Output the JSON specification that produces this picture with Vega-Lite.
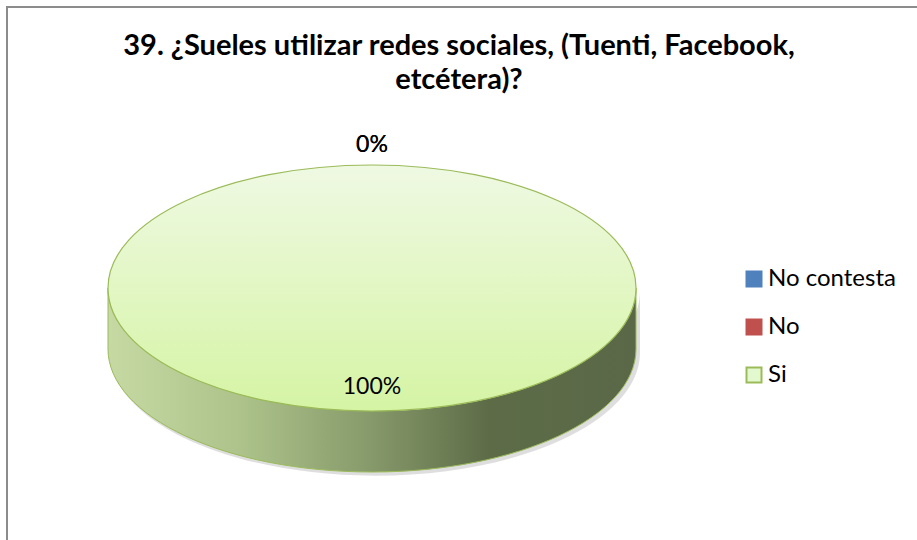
{
  "$schema": "https://vega.github.io/schema/vega-lite/v6.json",
  "autosize": "none",
  "width": 920,
  "height": 540,
  "padding": {"left": 7, "top": 7, "right": 0, "bottom": 0},
  "background": "white",
  "config": {
    "view": {"stroke": null},
    "font": "Lato"
  },
  "title": {
    "text": ["39. ¿Sueles utilizar redes sociales, (Tuenti, Facebook,", "etcétera)?"],
    "font": "Lato",
    "fontSize": 29,
    "fontWeight": "bold",
    "color": "#000000",
    "lineHeight": 34,
    "anchor": "middle",
    "frame": "group",
    "orient": "top",
    "baseline": "top",
    "offset": -89,
    "dx": -8
  },
  "data": {
    "values": [
      {"respuesta": "No contesta", "pct": 0},
      {"respuesta": "No", "pct": 0},
      {"respuesta": "Si", "pct": 1}
    ]
  },
  "layer": [
    {
      "transform": [{"filter": "datum.respuesta == 'Si'"}],
      "mark": {"type": "rect", "fill": null, "fillOpacity": 0, "stroke": "#8c8c8c", "strokeWidth": 2},
      "encoding": {}
    },
    {
      "transform": [{"filter": "datum.respuesta == 'Si'"}],
      "mark": {
        "type": "point",
        "shape": "M -1 0 C -1 0.2573 -0.5523 0.4659 0 0.4659 C 0.5523 0.4659 1 0.2573 1 0 L 1 0.2311 C 1 0.4884 0.5523 0.697 0 0.697 C -0.5523 0.697 -1 0.4884 -1 0.2311 Z",
        "size": 280900,
        "filled": true,
        "fill": "#7a7a7a",
        "opacity": 0.25,
        "strokeWidth": 0,
        "xOffset": -92,
        "yOffset": 14
      },
      "encoding": {}
    },
    {
      "transform": [{"filter": "datum.respuesta == 'Si'"}],
      "mark": {
        "type": "point",
        "shape": "M -1 0 C -1 0.2573 -0.5523 0.4659 0 0.4659 C 0.5523 0.4659 1 0.2573 1 0 L 1 0.2311 C 1 0.4884 0.5523 0.697 0 0.697 C -0.5523 0.697 -1 0.4884 -1 0.2311 Z",
        "size": 278784,
        "filled": true,
        "opacity": 1,
        "fill": {
          "gradient": "linear",
          "x1": 0, "y1": 0, "x2": 1, "y2": 0,
          "stops": [
            {"offset": 0, "color": "#c6d9a3"},
            {"offset": 0.25, "color": "#adc38b"},
            {"offset": 0.5, "color": "#86996a"},
            {"offset": 0.72, "color": "#5d6c47"},
            {"offset": 1, "color": "#5a6848"}
          ]
        },
        "stroke": "#9bbb59",
        "strokeWidth": 1,
        "xOffset": -95,
        "yOffset": 11
      },
      "encoding": {}
    },
    {
      "transform": [{"filter": "datum.respuesta == 'Si'"}],
      "mark": {
        "type": "point",
        "shape": "M -1 0 C -1 -0.2573 -0.5523 -0.4659 0 -0.4659 C 0.5523 -0.4659 1 -0.2573 1 0 C 1 0.2573 0.5523 0.4659 0 0.4659 C -0.5523 0.4659 -1 0.2573 -1 0 Z",
        "size": 278784,
        "filled": true,
        "opacity": 1,
        "fill": {
          "gradient": "linear",
          "x1": 0, "y1": 0, "x2": 0, "y2": 1,
          "stops": [
            {"offset": 0, "color": "#eff9e3"},
            {"offset": 1, "color": "#d5f4a4"}
          ]
        },
        "stroke": "#9bbb59",
        "strokeWidth": 1.2,
        "xOffset": -95,
        "yOffset": 11
      },
      "encoding": {}
    },
    {
      "mark": {"type": "arc", "outerRadius": 0, "innerRadius": 0, "xOffset": -95, "yOffset": 11},
      "encoding": {
        "theta": {"field": "pct", "type": "quantitative"},
        "color": {
          "field": "respuesta",
          "type": "nominal",
          "scale": {"domain": ["No contesta", "No", "Si"], "range": ["#4f81bd", "#c0504d", "#e4f8cf"]},
          "legend": {
            "title": null,
            "orient": "none",
            "legendX": 735,
            "legendY": 260,
            "symbolType": "square",
            "symbolSize": 225,
            "symbolStrokeWidth": 2,
            "labelFont": "Lato",
            "labelFontSize": 24,
            "labelColor": "#000000",
            "labelOffset": 2,
            "rowPadding": 24,
            "padding": 0
          }
        },
        "stroke": {
          "field": "respuesta",
          "type": "nominal",
          "scale": {"domain": ["No contesta", "No", "Si"], "range": ["#4f81bd", "#c0504d", "#9bbb59"]},
          "legend": {
            "title": null,
            "orient": "none",
            "legendX": 735,
            "legendY": 260,
            "symbolType": "square",
            "symbolSize": 225,
            "symbolStrokeWidth": 2,
            "labelFont": "Lato",
            "labelFontSize": 24,
            "labelColor": "#000000",
            "labelOffset": 2,
            "rowPadding": 24,
            "padding": 0
          }
        }
      }
    },
    {
      "mark": {
        "type": "text",
        "radius": 121,
        "font": "Lato",
        "fontSize": 23,
        "color": "#000000",
        "align": "center",
        "baseline": "middle",
        "xOffset": -95,
        "yOffset": -11
      },
      "encoding": {
        "theta": {"field": "pct", "type": "quantitative", "stack": true},
        "text": {"field": "pct", "type": "quantitative", "format": ".0%"}
      }
    }
  ]
}
